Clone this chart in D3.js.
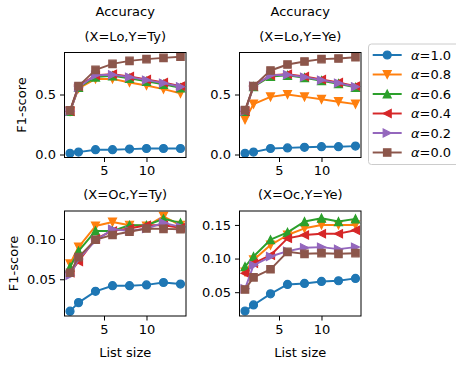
<!DOCTYPE html>
<html>
<head>
<meta charset="utf-8">
<script src="https://cdn.jsdelivr.net/npm/d3@7"></script>
<style>
    body { margin: 0; background: #fff; }
    text { font-family: 'DejaVu Sans', sans-serif; fill: #000; }
</style>
</head>
<body>
<svg id="chart"></svg>
<script>
// list sizes on the x axis
const listSizes = [1, 2, 4, 6, 8, 10, 12, 14];
const alphaLabels = ['1.0', '0.8', '0.6', '0.4', '0.2', '0.0'];
const seriesColors = ['#1f77b4', '#ff7f0e', '#2ca02c', '#d62728', '#9467bd', '#8c564b'];
const seriesMarkers = ['o', 'v', '^', '<', '>', 's'];

// one row per alpha, same order as alphaLabels
const loTy = [
    [0.010, 0.020, 0.040, 0.040, 0.045, 0.050, 0.050, 0.050],
    [0.360, 0.550, 0.630, 0.630, 0.600, 0.575, 0.545, 0.510],
    [0.360, 0.560, 0.645, 0.655, 0.635, 0.610, 0.585, 0.555],
    [0.360, 0.570, 0.660, 0.670, 0.650, 0.625, 0.600, 0.570],
    [0.360, 0.560, 0.660, 0.665, 0.645, 0.620, 0.595, 0.565],
    [0.368, 0.570, 0.705, 0.755, 0.780, 0.795, 0.805, 0.815],
];
const loYe = [
    [0.010, 0.020, 0.050, 0.055, 0.060, 0.065, 0.065, 0.070],
    [0.290, 0.420, 0.480, 0.500, 0.480, 0.460, 0.440, 0.420],
    [0.360, 0.565, 0.650, 0.660, 0.640, 0.615, 0.590, 0.560],
    [0.360, 0.570, 0.660, 0.670, 0.650, 0.625, 0.600, 0.570],
    [0.360, 0.570, 0.660, 0.665, 0.645, 0.620, 0.595, 0.565],
    [0.370, 0.570, 0.700, 0.750, 0.775, 0.795, 0.800, 0.810],
];
const ocTy = [
    [0.0104, 0.021, 0.035, 0.042, 0.042, 0.043, 0.046, 0.044],
    [0.069, 0.090, 0.116, 0.121, 0.117, 0.116, 0.128, 0.117],
    [0.065, 0.085, 0.110, 0.110, 0.117, 0.117, 0.125, 0.120],
    [0.058, 0.072, 0.100, 0.110, 0.113, 0.117, 0.117, 0.114],
    [0.055, 0.075, 0.098, 0.112, 0.110, 0.113, 0.120, 0.115],
    [0.058, 0.0775, 0.099, 0.105, 0.109, 0.113, 0.1125, 0.112],
];
const ocYe = [
    [0.022, 0.031, 0.0475, 0.0615, 0.063, 0.066, 0.067, 0.0705],
    [0.080, 0.098, 0.120, 0.135, 0.145, 0.150, 0.150, 0.150],
    [0.088, 0.103, 0.128, 0.139, 0.155, 0.160, 0.155, 0.159],
    [0.078, 0.093, 0.105, 0.130, 0.135, 0.137, 0.137, 0.142],
    [0.055, 0.090, 0.103, 0.111, 0.116, 0.117, 0.114, 0.117],
    [0.054, 0.072, 0.084, 0.110, 0.107, 0.108, 0.107, 0.108],
];

const panelTitles = ['(X=Lo,Y=Ty)', '(X=Lo,Y=Ye)', '(X=Oc,Y=Ty)', '(X=Oc,Y=Ye)'];
const panelData = [loTy, loYe, ocTy, ocYe];
const yDomains = [[-0.025, 0.85], [-0.025, 0.85], [0.0044, 0.1347], [0.0146, 0.1707]];
const yTicks = [[0, 0.5], [0, 0.5], [0.05, 0.10], [0.05, 0.10, 0.15]];
const yTickFormat = ['.1f', '.1f', '.2f', '.2f'];
const xTicks = [5, 10];

const width = 456;
const height = 367;
const colLeft = [64.5, 239.5];
const rowTop = [52.5, 211];
const panelW = 121.5;
const panelH = 105;
const fontSize = 13;

const svg = d3.select('#chart').attr('width', width).attr('height', height);

// matplotlib-ish marker shapes, s = marker size in px
function markerPath(type, s) {
    const h = s / 2;
    if (type === 'v') return `M${-h},${-h}L${h},${-h}L0,${h}Z`;
    if (type === '^') return `M${-h},${h}L${h},${h}L0,${-h}Z`;
    if (type === '<') return `M${h},${-h}L${h},${h}L${-h},0Z`;
    if (type === '>') return `M${-h},${-h}L${-h},${h}L${h},0Z`;
    if (type === 's') return `M${-h},${-h}H${h}V${h}H${-h}Z`;
    return d3.arc()({ innerRadius: 0, outerRadius: h, startAngle: 0, endAngle: 2 * Math.PI });
}

function drawMarker(g, type, color) {
    g.append('path')
        .attr('d', markerPath(type, type === 's' ? 7.4 : 8))
        .attr('fill', color)
        .attr('stroke', color)
        .attr('stroke-width', 1.2)
        .attr('stroke-linejoin', 'miter');
}

panelData.forEach((rows, p) => {
    const col = p % 2;
    const row = Math.floor(p / 2);
    const x0 = colLeft[col];
    const y0 = rowTop[row];

    const x = d3.scaleLinear().domain([0.35, 14.65]).range([x0, x0 + panelW]);
    const y = d3.scaleLinear().domain(yDomains[p]).range([y0 + panelH, y0]);

    const clipId = `clip${p}`;
    svg.append('clipPath').attr('id', clipId)
        .append('rect')
        .attr('x', x0).attr('y', y0).attr('width', panelW).attr('height', panelH);

    const plot = svg.append('g').attr('clip-path', `url(#${clipId})`);
    const line = d3.line().x((d, i) => x(listSizes[i])).y((d) => y(d));

    rows.forEach((vals, s) => {
        plot.append('path')
            .attr('d', line(vals))
            .attr('fill', 'none')
            .attr('stroke', seriesColors[s])
            .attr('stroke-width', 1.95)
            .attr('stroke-linejoin', 'round');
        vals.forEach((v, i) => {
            const m = plot.append('g').attr('transform', `translate(${x(listSizes[i])},${y(v)})`);
            drawMarker(m, seriesMarkers[s], seriesColors[s]);
        });
    });

    // axes
    const xAxis = svg.append('g')
        .attr('transform', `translate(0,${y0 + panelH})`)
        .call(d3.axisBottom(x).tickValues(xTicks).tickSize(4.5).tickPadding(4));
    const yAxis = svg.append('g')
        .attr('transform', `translate(${x0},0)`)
        .call(d3.axisLeft(y).tickValues(yTicks[p]).tickFormat(d3.format(yTickFormat[p])).tickSize(4.5).tickPadding(4));
    [xAxis, yAxis].forEach((a) => {
        a.select('.domain').remove();
        a.selectAll('line').attr('stroke', '#000').attr('stroke-width', 1);
        a.selectAll('text').attr('font-size', fontSize).attr('font-family', 'DejaVu Sans');
    });

    svg.append('rect')
        .attr('x', x0).attr('y', y0).attr('width', panelW).attr('height', panelH)
        .attr('fill', 'none').attr('stroke', '#000').attr('stroke-width', 1);

    svg.append('text')
        .attr('x', x0 + panelW / 2)
        .attr('y', y0 - 12)
        .attr('text-anchor', 'middle')
        .attr('font-size', fontSize)
        .text(panelTitles[p]);

    if (row === 0) {
        svg.append('text')
            .attr('x', x0 + panelW / 2)
            .attr('y', 15.5)
            .attr('text-anchor', 'middle')
            .attr('font-size', fontSize)
            .text('Accuracy');
    } else {
        svg.append('text')
            .attr('x', x0 + panelW / 2)
            .attr('y', 356.5)
            .attr('text-anchor', 'middle')
            .attr('font-size', fontSize)
            .text('List size');
    }

    if (col === 0) {
        const lx = row === 0 ? 21.7 : 13.3;
        svg.append('text')
            .attr('transform', `translate(${lx + 4.5},${y0 + panelH / 2}) rotate(-90)`)
            .attr('text-anchor', 'middle')
            .attr('font-size', fontSize)
            .text('F1-score');
    }
});

// legend
const legend = svg.append('g');
legend.append('rect')
    .attr('x', 368.5).attr('y', 44).attr('width', 100).attr('height', 120.5)
    .attr('rx', 3)
    .attr('fill', 'rgba(255,255,255,0.8)')
    .attr('stroke', '#cccccc')
    .attr('stroke-width', 1);

alphaLabels.forEach((lab, i) => {
    const cy = 55 + i * 19.5;
    legend.append('line')
        .attr('x1', 372.7).attr('x2', 401.7).attr('y1', cy).attr('y2', cy)
        .attr('stroke', seriesColors[i]).attr('stroke-width', 1.95);
    const m = legend.append('g').attr('transform', `translate(387.2,${cy})`);
    drawMarker(m, seriesMarkers[i], seriesColors[i]);
    const t = legend.append('text')
        .attr('x', 411)
        .attr('y', cy + 4.6)
        .attr('font-size', fontSize);
    t.append('tspan').attr('font-style', 'italic').text('α');
    t.append('tspan').text('=' + lab);
});
</script>
</body>
</html>
